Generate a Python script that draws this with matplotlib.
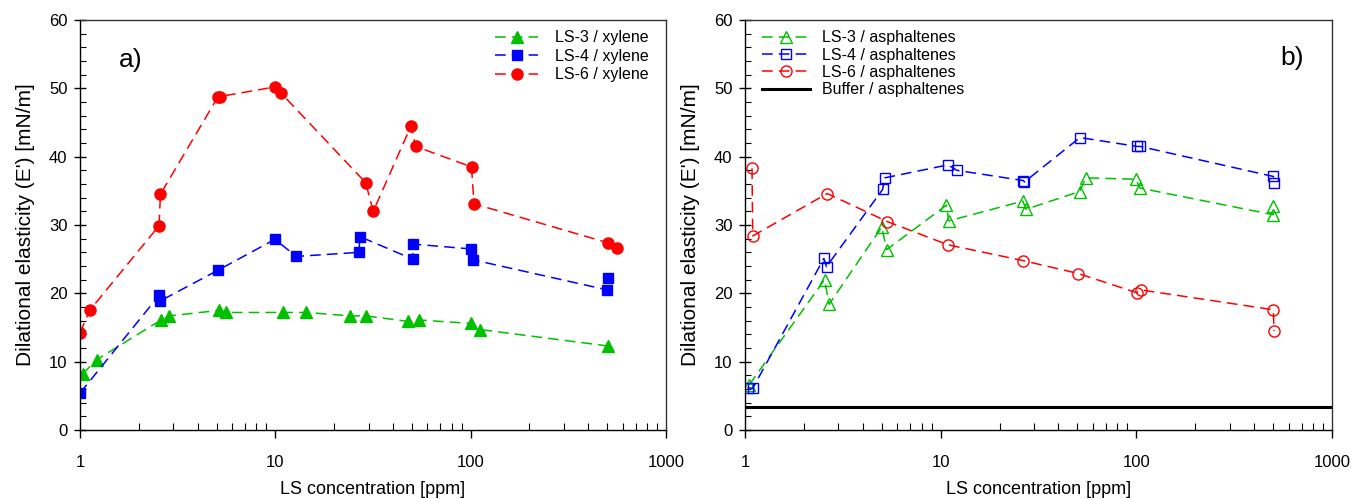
import numpy as np
import matplotlib
matplotlib.use("Agg")
import matplotlib.pyplot as plt
from matplotlib.ticker import LogLocator, FixedLocator, NullFormatter, MultipleLocator

plt.rcParams['font.family'] = ['Liberation Sans', 'DejaVu Sans']

# === DATA (panel a: xylene) ===
ls3_xyl_x = [1.03, 1.22, 2.6, 2.87, 5.13, 5.6, 10.9, 14.4, 24.1, 29.1, 47.6, 54.4, 100, 112, 503]
ls3_xyl_y = [8.2, 10.3, 16.1, 16.7, 17.5, 17.2, 17.2, 17.2, 16.7, 16.7, 15.9, 16.1, 15.6, 14.7, 12.3]

ls4_xyl_x = [1.0, 2.54, 2.58, 5.1, 9.95, 12.8, 26.8, 27.1, 50.5, 50.9, 100, 103, 500, 507]
ls4_xyl_y = [5.4, 19.7, 18.9, 23.4, 27.9, 25.4, 26.0, 28.3, 25.0, 27.2, 26.5, 24.9, 20.5, 22.2]

ls6_xyl_x = [1.0, 1.12, 2.54, 2.58, 5.07, 5.2, 9.93, 10.7, 29.0, 31.7, 49.5, 52.3, 101, 104, 503, 564]
ls6_xyl_y = [14.2, 17.5, 29.9, 34.5, 48.7, 48.8, 50.2, 49.3, 36.2, 32.0, 44.5, 41.5, 38.5, 33.1, 27.4, 26.7]

# === DATA (panel b: asphaltenes) ===
ls3_asp_x = [1.05, 2.55, 2.69, 5.0, 5.3, 10.7, 11.0, 26.3, 27.3, 51.3, 55.2, 99.2, 104.5, 501, 501]
ls3_asp_y = [6.6, 22.0, 18.4, 29.7, 26.4, 32.9, 30.6, 33.5, 32.3, 34.9, 36.9, 36.7, 35.4, 31.5, 32.8]

ls4_asp_x = [1.03, 1.095, 2.53, 2.61, 5.05, 5.18, 10.9, 12.1, 26.5, 26.8, 51.5, 100.8, 104.5, 502, 506]
ls4_asp_y = [6.2, 6.1, 25.1, 23.9, 35.2, 36.9, 38.8, 38.0, 36.5, 36.3, 42.8, 41.5, 41.5, 37.1, 36.1]

ls6_asp_x = [1.086, 1.095, 2.63, 5.34, 10.9, 26.3, 50.5, 100.4, 105.6, 501, 506]
ls6_asp_y = [38.3, 28.4, 34.6, 30.5, 27.1, 24.8, 22.9, 20.1, 20.5, 17.6, 14.5]

buffer_asp = 3.4

GREEN = "#00c000"
BLUE = "#0000ff"
RED = "#ff0000"
DASH = (0, (7, 4))

fig = plt.figure(figsize=(13.52, 4.99), dpi=100)
ax1 = fig.add_axes([80 / 1352, 69 / 499, 586 / 1352, 410 / 499])
ax2 = fig.add_axes([745 / 1352, 69 / 499, 587 / 1352, 410 / 499])


def style_axis(ax):
    ax.set_xscale("log")
    ax.set_xlim(1, 1000)
    ax.set_ylim(0, 60)
    ax.xaxis.set_major_locator(FixedLocator([1, 10, 100, 1000]))
    ax.set_xticklabels(["1", "10", "100", "1000"])
    ax.xaxis.set_minor_locator(LogLocator(base=10, subs=np.arange(2, 10)))
    ax.xaxis.set_minor_formatter(NullFormatter())
    ax.yaxis.set_major_locator(MultipleLocator(10))
    ax.yaxis.set_minor_locator(MultipleLocator(2))
    ax.tick_params(axis="x", which="major", direction="out", length=6, width=1, pad=12, labelsize=12)
    ax.tick_params(axis="x", which="minor", direction="in", length=5, width=0.8)
    ax.tick_params(axis="y", which="major", direction="inout", length=8, width=1, pad=5, labelsize=12)
    ax.tick_params(axis="y", which="minor", direction="in", length=4, width=0.8)
    for s in ax.spines.values():
        s.set_color("#333333")
        s.set_linewidth(1.0)
    ax.spines["bottom"].set_color("black")
    ax.spines["left"].set_color("black")
    ax.set_xlabel("LS concentration [ppm]", fontsize=13, labelpad=8)
    ax.set_ylabel("Dilational elasticity (E') [mN/m]", fontsize=15, labelpad=10)


# === PANEL a ===
ax1.plot(ls3_xyl_x, ls3_xyl_y, color=GREEN, ls=DASH, lw=1.1, marker="^", ms=8, label="LS-3 / xylene")
ax1.plot(ls4_xyl_x, ls4_xyl_y, color=BLUE, ls=DASH, lw=1.1, marker="s", ms=7, label="LS-4 / xylene")
ax1.plot(ls6_xyl_x, ls6_xyl_y, color=RED, ls=DASH, lw=1.1, marker="o", ms=8, label="LS-6 / xylene")
style_axis(ax1)
ax1.legend(loc="upper right", frameon=False, fontsize=11.5, handlelength=2.7,
           handletextpad=1.05, labelspacing=0.22, bbox_to_anchor=(0.995, 1.01))
ax1.text(0.087, 0.902, "a)", transform=ax1.transAxes, fontsize=19, ha="center", va="center")

# === PANEL b ===
ax2.plot(ls3_asp_x, ls3_asp_y, color=GREEN, ls=DASH, lw=1.1, marker="^", ms=8, mfc="none", label="LS-3 / asphaltenes")
ax2.plot(ls4_asp_x, ls4_asp_y, color=BLUE, ls=DASH, lw=1.1, marker="s", ms=7, mfc="none", label="LS-4 / asphaltenes")
ax2.plot(ls6_asp_x, ls6_asp_y, color=RED, ls=DASH, lw=1.1, marker="o", ms=8, mfc="none", label="LS-6 / asphaltenes")
ax2.axhline(buffer_asp, color="black", lw=2.2, label="Buffer / asphaltenes")
style_axis(ax2)
ax2.legend(loc="upper left", frameon=False, fontsize=11.5, handlelength=3.0,
           handletextpad=0.75, labelspacing=0.15, bbox_to_anchor=(0.005, 1.01))
ax2.text(0.932, 0.907, "b)", transform=ax2.transAxes, fontsize=19, ha="center", va="center")

fig.savefig("out.png", dpi=100)
